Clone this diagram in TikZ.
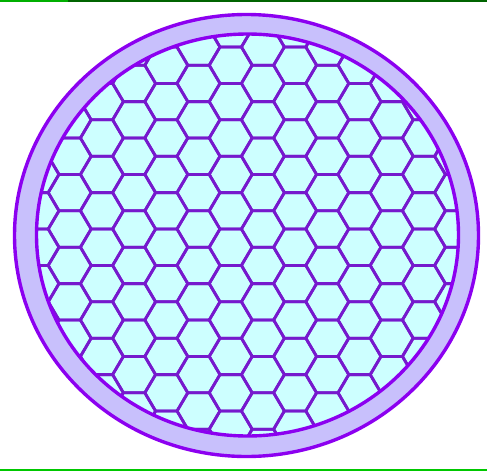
\documentclass[tikz,border=0pt]{standalone}
\definecolor{violetline}{RGB}{140,0,240}
\definecolor{hexline}{RGB}{118,25,205}
\definecolor{ringfill}{RGB}{200,192,252}
\definecolor{cellfill}{RGB}{205,255,255}
\definecolor{topgreenA}{RGB}{0,175,0}
\definecolor{topgreenB}{RGB}{0,100,0}
\definecolor{botgreen}{RGB}{0,200,0}
\tikzset{
  rim/.style={draw=violetline,line width=3.4pt},
  hexedge/.style={draw=hexline,line width=2.8pt,line join=round}
}
\begin{document}
\begin{tikzpicture}[x=1pt,y=-1pt]
\useasboundingbox (0,0) rectangle (487,471);
\fill[white] (0,0) rectangle (487,471);
\fill[topgreenA] (0,0) rectangle (68,2);
\fill[topgreenB] (68,0) rectangle (487,2);
\fill[botgreen] (0,468.5) rectangle (487,470.5);
% outer ring
\path[rim,fill=ringfill] (246.5,235.5) ellipse [x radius=232, y radius=221];
% inner disc
\coordinate (c) at (247.5,235);
\fill[cellfill] (c) ellipse [x radius=211, y radius=201];
\begin{scope}
  \clip (c) ellipse [x radius=211, y radius=201];
  \foreach \k in {-8,...,8}{
    \foreach \m in {-7,...,7}{
      \pgfmathsetmacro\cx{230.7+32.2*\k}
      \pgfmathsetmacro\cy{210.8+36.4*\m+mod(abs(\k),2)*18.2}
      \path[hexedge] (\cx-21.47,\cy) -- (\cx-10.73,\cy-18.2) -- (\cx+10.73,\cy-18.2)
        -- (\cx+21.47,\cy) -- (\cx+10.73,\cy+18.2) -- (\cx-10.73,\cy+18.2) -- cycle;
    }
  }
\end{scope}
\path[rim] (c) ellipse [x radius=211, y radius=201];
\end{tikzpicture}
\end{document}
